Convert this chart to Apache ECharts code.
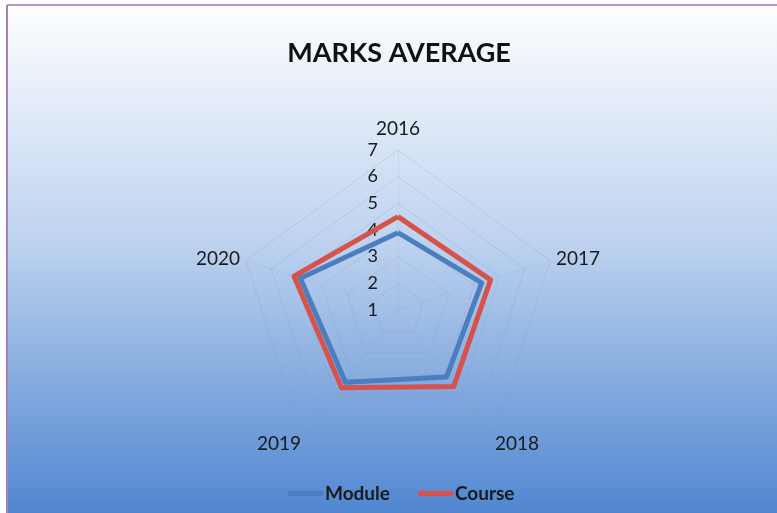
<!DOCTYPE html>
<html>
<head>
<meta charset="utf-8">
<script src="https://cdn.jsdelivr.net/npm/echarts@6/dist/echarts.min.js"></script>
<style>
  html, body { margin: 0; padding: 0; background: #ffffff; }
  #main { width: 777px; height: 513px; }
</style>
</head>
<body>
<div id="main"></div>
<script>
// years round the radar, clockwise from the top
var years = ['2016', '2017', '2018', '2019', '2020'];
var moduleMarks = [3.9, 4.3, 4.1, 4.35, 4.85];
var courseMarks = [4.5, 4.65, 4.55, 4.6, 5.1];
var axisMin = 1, axisMax = 7;

// echarts lays indicators out anti-clockwise, so walk the years backwards after the first
var order = [0, 4, 3, 2, 1];
var nameGaps = [12, 6, 5, 5, 6];

var myChart = echarts.init(document.getElementById('main'));

var indicators = order.map(function (i, k) {
    var ind = { name: years[i], min: axisMin, max: axisMax, nameGap: nameGaps[i] };
    if (k === 0) {
        ind.axisLabel = { show: true };
    }
    return ind;
});

function pick(arr) {
    return order.map(function (i) { return arr[i]; });
}

var option = {
    animation: false,
    graphic: [{
        type: 'rect',
        silent: true,
        z: -10,
        shape: { x: 8, y: 6, width: 780, height: 520 },
        style: {
            fill: new echarts.graphic.LinearGradient(0, 0, 0, 1, [
                { offset: 0, color: '#fdfeff' },
                { offset: 0.45, color: '#bed3ef' },
                { offset: 1, color: '#4b83cf' }
            ])
        }
    }, {
        type: 'line',
        silent: true,
        z: -9,
        shape: { x1: 7, y1: 5, x2: 777, y2: 5 },
        style: { stroke: '#b88fcb', lineWidth: 2 }
    }, {
        type: 'line',
        silent: true,
        z: -9,
        shape: { x1: 7, y1: 5, x2: 7, y2: 513 },
        style: { stroke: '#a684c0', lineWidth: 2 }
    }],
    title: {
        text: 'MARKS AVERAGE',
        left: 394,
        top: 35,
        textAlign: 'center',
        textStyle: {
            fontFamily: 'Lato',
            fontSize: 27,
            fontWeight: 'bold',
            color: '#111111'
        }
    },
    legend: {
        data: ['Module', 'Course'],
        left: 283,
        top: 479,
        icon: 'rect',
        itemWidth: 35,
        itemHeight: 5,
        itemGap: 28,
        textStyle: {
            fontFamily: 'Lato',
            fontSize: 19,
            fontWeight: 'bold',
            color: '#1a1a1a',
            padding: [0, 0, 0, -3]
        }
    },
    radar: {
        center: [398, 310],
        radius: 160,
        startAngle: 90,
        splitNumber: 6,
        shape: 'polygon',
        axisName: {
            color: '#1a1a1a',
            fontFamily: 'Lato',
            fontSize: 19
        },
        axisLine: { lineStyle: { color: 'rgba(140,150,175,0.15)', width: 1 } },
        splitLine: { lineStyle: { color: 'rgba(140,150,175,0.25)', width: 1 } },
        splitArea: { show: false },
        axisTick: { show: false },
        axisLabel: {
            show: false,
            color: '#1a1a1a',
            fontFamily: 'Lato',
            fontSize: 18,
            margin: 20
        },
        indicator: indicators
    },
    series: [{
        type: 'radar',
        symbol: 'none',
        data: [{
            name: 'Module',
            value: pick(moduleMarks),
            lineStyle: { color: '#4a7ebf', width: 5 },
            itemStyle: { color: '#4a7ebf' }
        }, {
            name: 'Course',
            value: pick(courseMarks),
            lineStyle: { color: '#d6524a', width: 5 },
            itemStyle: { color: '#d6524a' }
        }]
    }]
};

myChart.setOption(option);
</script>
</body>
</html>
